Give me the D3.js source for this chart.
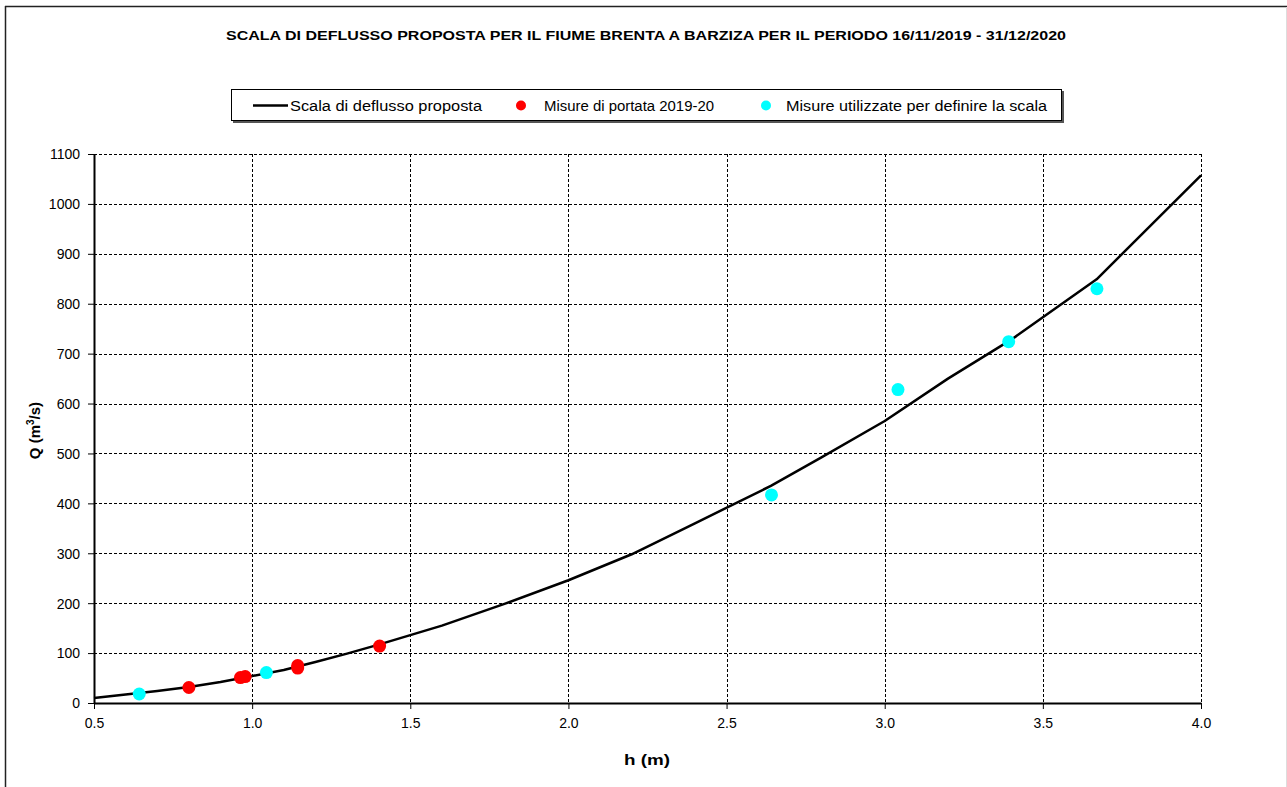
<!DOCTYPE html>
<html>
<head>
<meta charset="utf-8">
<script src="https://cdn.jsdelivr.net/npm/d3@7"></script>
<style>
  html, body { margin: 0; padding: 0; background: #fff; }
  svg { display: block; font-family: "Liberation Sans", Arial, sans-serif; }
</style>
</head>
<body>
<svg id="chart" width="1287" height="787"></svg>
<script>
// Rating curve (stage h in m -> discharge Q in m3/s)
const curveH = [0.5, 0.6, 0.7, 0.8, 0.9, 1.0, 1.1, 1.2, 1.3, 1.4, 1.5, 1.6, 1.8, 2.0, 2.2, 2.4, 2.64, 2.8, 3.0, 3.2, 3.4, 3.67, 4.0];
const curveQ = [10, 17, 24, 32, 42, 54, 66, 82, 99, 117, 136, 155, 199, 246, 298, 360, 435, 492, 565, 650, 728, 849, 1057];

// Discharge measurements 2019-20
const measH = [0.80, 0.963, 0.978, 1.144, 1.144, 1.403];
const measQ = [31, 51, 53, 75, 70, 114];

// Measurements used to define the curve
const usedH = [0.643, 1.045, 2.642, 3.042, 3.392, 3.671];
const usedQ = [18, 61, 417, 628, 724, 830];

const xTicks = [0.5, 1.0, 1.5, 2.0, 2.5, 3.0, 3.5, 4.0];
const yTicks = [0, 100, 200, 300, 400, 500, 600, 700, 800, 900, 1000, 1100];

const titleText = "SCALA DI DEFLUSSO PROPOSTA PER IL FIUME BRENTA A BARZIZA PER IL PERIODO 16/11/2019 - 31/12/2020";
const legendLabels = ["Scala di deflusso proposta", "Misure di portata 2019-20", "Misure utilizzate per definire la scala"];

const svg = d3.select("#chart");
const plot = { left: 94, right: 1201, top: 154, bottom: 703 };

const x = d3.scaleLinear().domain([0.5, 4.0]).range([plot.left, plot.right]);
const y = d3.scaleLinear().domain([0, 1100]).range([plot.bottom, plot.top]);

// Outer frame
svg.append("line").attr("x1", 5.5).attr("x2", 5.5).attr("y1", 6).attr("y2", 787)
  .attr("stroke", "#222").attr("stroke-width", 1.5);
svg.append("line").attr("x1", 5).attr("x2", 1287).attr("y1", 6.5).attr("y2", 6.5)
  .attr("stroke", "#222").attr("stroke-width", 1.5);
svg.append("line").attr("x1", 1286.5).attr("x2", 1286.5).attr("y1", 7).attr("y2", 787)
  .attr("stroke", "#ddd").attr("stroke-width", 1);

// Title
svg.append("text")
  .attr("x", 646).attr("y", 40)
  .attr("text-anchor", "middle")
  .attr("font-size", 12.5).attr("font-weight", "bold")
  .attr("textLength", 840).attr("lengthAdjust", "spacingAndGlyphs")
  .text(titleText);

// Gridlines
const grid = svg.append("g").attr("stroke", "#000").attr("stroke-width", 1).attr("stroke-dasharray", "3,2");
grid.selectAll("line.h").data(yTicks.filter(d => d > 0)).join("line")
  .attr("x1", plot.left).attr("x2", plot.right)
  .attr("y1", d => Math.round(y(d)) + 0.5).attr("y2", d => Math.round(y(d)) + 0.5);
grid.selectAll("line.v").data(xTicks.filter(d => d > 0.5)).join("line")
  .attr("y1", plot.top).attr("y2", plot.bottom)
  .attr("x1", d => Math.round(x(d)) + 0.5).attr("x2", d => Math.round(x(d)) + 0.5);

// Axes
const xAxis = d3.axisBottom(x).tickValues(xTicks).tickFormat(d3.format(".1f")).tickSizeInner(6).tickSizeOuter(0);
const yAxis = d3.axisLeft(y).tickValues(yTicks).tickFormat(d3.format("d")).tickSizeInner(6).tickSizeOuter(0);

const gx = svg.append("g").attr("transform", `translate(0,${plot.bottom})`).call(xAxis);
const gy = svg.append("g").attr("transform", `translate(${plot.left},0)`).call(yAxis);
[gx, gy].forEach(g => {
  g.attr("font-size", 14).attr("font-family", "'Liberation Sans', Arial, sans-serif");
  g.select(".domain").attr("stroke", "#000").attr("stroke-width", 2);
  g.selectAll(".tick line").attr("stroke", "#000").attr("stroke-width", 1);
  g.selectAll(".tick text").attr("fill", "#000");
});
gx.selectAll(".tick text").attr("y", 12).attr("dy", "0.95em");
gy.selectAll(".tick text").attr("x", -14).attr("dy", "0.35em");

// Axis titles
svg.append("text").attr("x", 647).attr("y", 765).attr("text-anchor", "middle")
  .attr("font-size", 14).attr("font-weight", "bold")
  .attr("textLength", 46).attr("lengthAdjust", "spacingAndGlyphs").text("h (m)");
const yTitle = svg.append("text")
  .attr("transform", `translate(40,${(plot.top + plot.bottom) / 2 + 2}) rotate(-90)`)
  .attr("text-anchor", "middle").attr("font-size", 15).attr("font-weight", "bold");
yTitle.append("tspan").text("Q (m");
yTitle.append("tspan").attr("font-size", 10).attr("dy", -6).text("3");
yTitle.append("tspan").attr("dy", 6).text("/s)");

// Rating curve
const curve = curveH.map((h, i) => [h, curveQ[i]]);
svg.append("path")
  .datum(curve)
  .attr("fill", "none").attr("stroke", "#000").attr("stroke-width", 2.5)
  .attr("stroke-linejoin", "round")
  .attr("d", d3.line().x(d => x(d[0])).y(d => y(d[1])));

// Points
const r = 6.5;
svg.append("g").selectAll("circle")
  .data(usedH.map((h, i) => [h, usedQ[i]])).join("circle")
  .attr("cx", d => x(d[0])).attr("cy", d => y(d[1])).attr("r", r).attr("fill", "#00ffff");
svg.append("g").selectAll("circle")
  .data(measH.map((h, i) => [h, measQ[i]])).join("circle")
  .attr("cx", d => x(d[0])).attr("cy", d => y(d[1])).attr("r", r).attr("fill", "#ff0000");

// Legend
const lg = svg.append("g");
lg.append("rect").attr("x", 233).attr("y", 91).attr("width", 831).attr("height", 32).attr("fill", "#555");
lg.append("rect").attr("x", 231.5).attr("y", 89.5).attr("width", 830).attr("height", 31)
  .attr("fill", "#fff").attr("stroke", "#000").attr("stroke-width", 1);
lg.append("line").attr("x1", 253).attr("x2", 288).attr("y1", 105.5).attr("y2", 105.5)
  .attr("stroke", "#000").attr("stroke-width", 2.5);
lg.append("circle").attr("cx", 521).attr("cy", 105.5).attr("r", 5).attr("fill", "#ff0000");
lg.append("circle").attr("cx", 766).attr("cy", 105.5).attr("r", 5).attr("fill", "#00ffff");
const legendX = [290, 544, 786];
const legendW = [192, 170, 261];
legendLabels.forEach((t, i) => {
  lg.append("text").attr("x", legendX[i]).attr("y", 110.5).attr("font-size", 14)
    .attr("textLength", legendW[i]).attr("lengthAdjust", "spacingAndGlyphs").text(t);
});
</script>
</body>
</html>
